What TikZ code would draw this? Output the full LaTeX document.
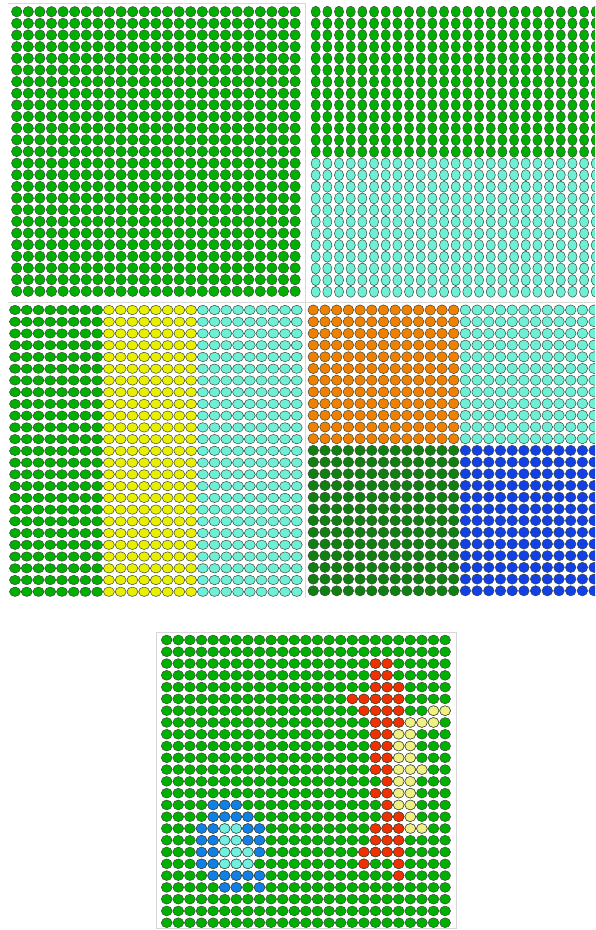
\documentclass[tikz,border=0pt]{standalone}
\begin{document}
\definecolor{gr}{RGB}{0,176,0}
\definecolor{cy}{RGB}{110,240,215}
\definecolor{ye}{RGB}{232,240,0}
\definecolor{orng}{RGB}{240,128,0}
\definecolor{dg}{RGB}{16,128,16}
\definecolor{bl}{RGB}{16,64,230}
\definecolor{rd}{RGB}{240,48,0}
\definecolor{ly}{RGB}{240,240,130}
\definecolor{az}{RGB}{16,128,230}
\definecolor{cyb}{RGB}{112,240,225}
\definecolor{edgec}{RGB}{60,70,60}
\definecolor{framec}{RGB}{215,215,215}
\tikzset{dot/.style={draw=edgec, line width=0.5pt},
  framel/.style={draw=framec, line width=0.8pt}}
\begin{tikzpicture}[x=1pt,y=-1pt]
\useasboundingbox (0,0) rectangle (595,930);
\fill[white] (0,0) rectangle (595,930);
\begin{scope}
\clip (0,0) rectangle (595,930);
% frames
\draw[framel] (8,3) -- (305,3);
\draw[framel] (8,302) -- (595,302);
\draw[framel] (305,3) -- (305,598);
\draw[framel] (156,632) rectangle (456,928);
% panel 1
\foreach \i in {0,...,24} \foreach \j in {0,...,24}
  \filldraw[dot, fill=gr] ({16.7+11.6*\i},{11.7+11.65*\j}) ellipse (5.2 and 5.2);
% panel 2
\foreach \i in {0,...,24} \foreach \j in {0,...,24} {
  \ifnum\j<13 \def\cc{gr}\else\def\cc{cy}\fi
  \filldraw[dot, fill=\cc] ({315.7+11.67*\i},{11.7+11.67*\j}) ellipse (4.6 and 5.5);
}
% panel 3
\foreach \i in {0,...,24} \foreach \j in {0,...,24} {
  \ifnum\i<8 \def\cc{gr}\else\ifnum\i<16 \def\cc{ye}\else\def\cc{cy}\fi\fi
  \filldraw[dot, fill=\cc] ({15+11.74*\i},{310+11.74*\j}) ellipse (5.5 and 4.7);
}
% panel 4
\foreach \i in {0,...,24} \foreach \j in {0,...,24} {
  \ifnum\j<12
    \ifnum\i<13 \def\cc{orng}\else\def\cc{cy}\fi
  \else
    \ifnum\i<13 \def\cc{dg}\else\def\cc{bl}\fi
  \fi
  \filldraw[dot, fill=\cc] ({313.3+11.7*\i},{310+11.7*\j}) ellipse (5.3 and 5.1);
}
% panel 5
\foreach \i in {0,...,24} \foreach \j in {0,...,24}
  \filldraw[dot, fill=gr] ({166.7+11.6*\i},{640+11.78*\j}) ellipse (5.4 and 4.9);
\foreach \i/\j in {18/2,19/2,18/3,19/3,18/4,19/4,20/4,16/5,17/5,18/5,19/5,20/5,
  17/6,18/6,19/6,20/6,18/7,19/7,20/7,18/8,19/8,18/9,19/9,18/10,19/10,18/11,19/11,
  19/12,18/13,19/13,19/14,19/15,20/15,18/16,19/16,20/16,18/17,19/17,20/17,
  17/18,18/18,19/18,20/18,17/19,20/19,20/20}
  \filldraw[dot, fill=rd] ({166.7+11.6*\i},{640+11.78*\j}) ellipse (5.4 and 4.9);
\foreach \i/\j in {23/6,24/6,21/7,22/7,23/7,20/8,21/8,20/9,21/9,20/10,21/10,
  20/11,21/11,22/11,20/12,21/12,20/13,21/13,20/14,21/14,21/15,21/16,22/16}
  \filldraw[dot, fill=ly] ({166.7+11.6*\i},{640+11.78*\j}) ellipse (5.4 and 4.9);
\foreach \i/\j in {4/14,5/14,6/14,4/15,5/15,6/15,7/15,3/16,4/16,7/16,8/16,
  3/17,4/17,7/17,8/17,3/18,4/18,8/18,3/19,4/19,4/20,5/20,6/20,7/20,8/20,5/21,6/21,8/21}
  \filldraw[dot, fill=az] ({166.7+11.6*\i},{640+11.78*\j}) ellipse (5.4 and 4.9);
\foreach \i/\j in {5/16,6/16,5/17,6/17,5/18,6/18,7/18,5/19,6/19,7/19}
  \filldraw[dot, fill=cyb] ({166.7+11.6*\i},{640+11.78*\j}) ellipse (5.4 and 4.9);
\end{scope}
\end{tikzpicture}
\end{document}
